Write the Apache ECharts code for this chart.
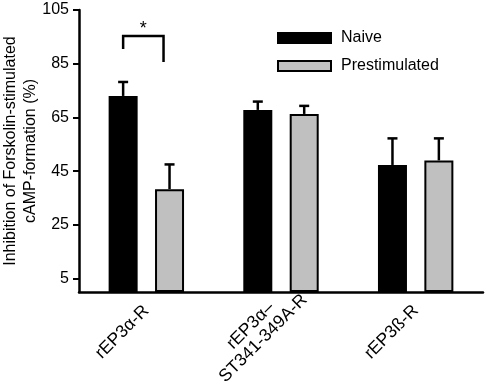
<!DOCTYPE html>
<html>
<head>
<meta charset="utf-8">
<script src="https://cdn.jsdelivr.net/npm/echarts@6/dist/echarts.min.js"></script>
<style>
  html, body { margin: 0; padding: 0; background: #fff; }
  #chart { width: 487px; height: 385px; }
</style>
</head>
<body>
<div id="chart"></div>
<script>
// Datos
const categories = ["rEP3α-R", "rEP3α–\nST341-349A-R", "rEP3ß-R"];
const seriesNames = ["Naive", "Prestimulated"];
const naiveMean = [73.0, 67.8, 47.3];
const naiveErr = [5.2, 3.1, 9.9];
const prestMean = [38.3, 66.3, 49.0];
const prestErr = [9.2, 3.0, 8.2];
const yTicks = [5, 25, 45, 65, 85, 105];
// Corchete de significancia (niveles en unidades del eje y)
const bracketTop = 95.3;
const bracketLeftEnd = 90.5;
const bracketRightEnd = 85.6;
const starLevel = 98.0;

const FONT = "'Liberation Sans', Arial, sans-serif";
const BAR_W = 29;
const BAR_GAP = 0.6;
const OFFSET = (BAR_W + BAR_W * BAR_GAP) / 2;

const chart = echarts.init(document.getElementById("chart"));

// Barras de error solo hacia arriba, con tapa
function errorRenderer(offset) {
  return function (params, api) {
    const base = api.coord([api.value(0), api.value(1)]);
    const top = api.coord([api.value(0), api.value(1) + api.value(2)]);
    const x = base[0] + offset;
    const st = { stroke: "#000", lineWidth: 2.5 };
    return {
      type: "group",
      children: [
        { type: "line", shape: { x1: x, y1: base[1], x2: x, y2: top[1] }, style: st },
        { type: "line", shape: { x1: x - 5, y1: top[1], x2: x + 5, y2: top[1] }, style: st },
      ],
    };
  };
}

function bracketRenderer(params, api) {
  const c = api.coord([0, bracketTop]);
  const xl = c[0] - OFFSET;
  const xr = c[0] + OFFSET - 6;
  const yTop = c[1];
  const yL = api.coord([0, bracketLeftEnd])[1];
  const yR = api.coord([0, bracketRightEnd])[1];
  const ys = api.coord([0, starLevel])[1];
  return {
    type: "group",
    children: [
      {
        type: "polyline",
        shape: { points: [[xl, yL], [xl, yTop], [xr, yTop], [xr, yR]] },
        style: { stroke: "#000", lineWidth: 2.5, fill: null },
      },
      {
        type: "text",
        style: {
          x: (xl + xr) / 2, y: ys, text: "*",
          fill: "#000", font: "18px " + FONT,
          align: "center", verticalAlign: "middle",
        },
      },
    ],
  };
}

const option = {
  animation: false,
  backgroundColor: "#fff",
  textStyle: { fontFamily: FONT, color: "#000" },
  grid: { left: 79, right: 4, top: 10, bottom: 93, outerBoundsMode: "none", containLabel: false },
  legend: {
    data: seriesNames,
    orient: "vertical",
    left: 277,
    top: 30,
    padding: 0,
    itemWidth: 53,
    itemHeight: 10,
    itemGap: 12,
    icon: "rect",
    textStyle: { fontSize: 16, color: "#000", fontFamily: FONT, padding: [0, 0, 0, 5] },
  },
  xAxis: {
    type: "category",
    data: categories,
    axisLine: { lineStyle: { color: "#000", width: 2.5 } },
    axisTick: { show: false },
    axisLabel: {
      interval: 0,
      rotate: 45,
      margin: 16,
      align: "center",
      verticalAlign: "middle",
      padding: [0, 68, 0, 0],
      formatter: function (v) {
        return v.split("\n").map((s) => "{c|" + s + "}").join("\n");
      },
      rich: {
        c: { align: "center", fontSize: 17.5, fontFamily: FONT, color: "#000", lineHeight: 18 },
      },
    },
  },
  yAxis: {
    type: "value",
    min: 0,
    max: 105,
    name: "Inhibition of Forskolin-stimulated\ncAMP-formation (%)",
    nameLocation: "middle",
    nameGap: 39,
    nameMoveOverlap: false,
    nameTextStyle: { fontSize: 16, color: "#000", fontFamily: FONT, lineHeight: 19.5 },
    splitLine: { show: false },
    axisLine: { show: true, lineStyle: { color: "#000", width: 2.5 } },
    axisTick: { show: true, length: 6, customValues: yTicks, lineStyle: { color: "#000", width: 2 } },
    axisLabel: { customValues: yTicks, fontSize: 16, color: "#000", fontFamily: FONT, margin: 10 },
  },
  series: [
    {
      name: "Naive",
      type: "bar",
      data: naiveMean,
      barWidth: BAR_W,
      barGap: BAR_GAP * 100 + "%",
      itemStyle: { color: "#000", borderColor: "#000", borderWidth: 2 },
    },
    {
      name: "Prestimulated",
      type: "bar",
      data: prestMean,
      barWidth: BAR_W,
      itemStyle: { color: "#c0c0c0", borderColor: "#000", borderWidth: 2 },
    },
    {
      type: "custom",
      renderItem: errorRenderer(-OFFSET),
      data: naiveMean.map((m, i) => [i, m, naiveErr[i]]),
      z: 3,
    },
    {
      type: "custom",
      renderItem: errorRenderer(OFFSET),
      data: prestMean.map((m, i) => [i, m, prestErr[i]]),
      z: 3,
    },
    {
      type: "custom",
      renderItem: bracketRenderer,
      data: [[0, bracketTop]],
      z: 3,
    },
  ],
};

chart.setOption(option);
</script>
</body>
</html>
